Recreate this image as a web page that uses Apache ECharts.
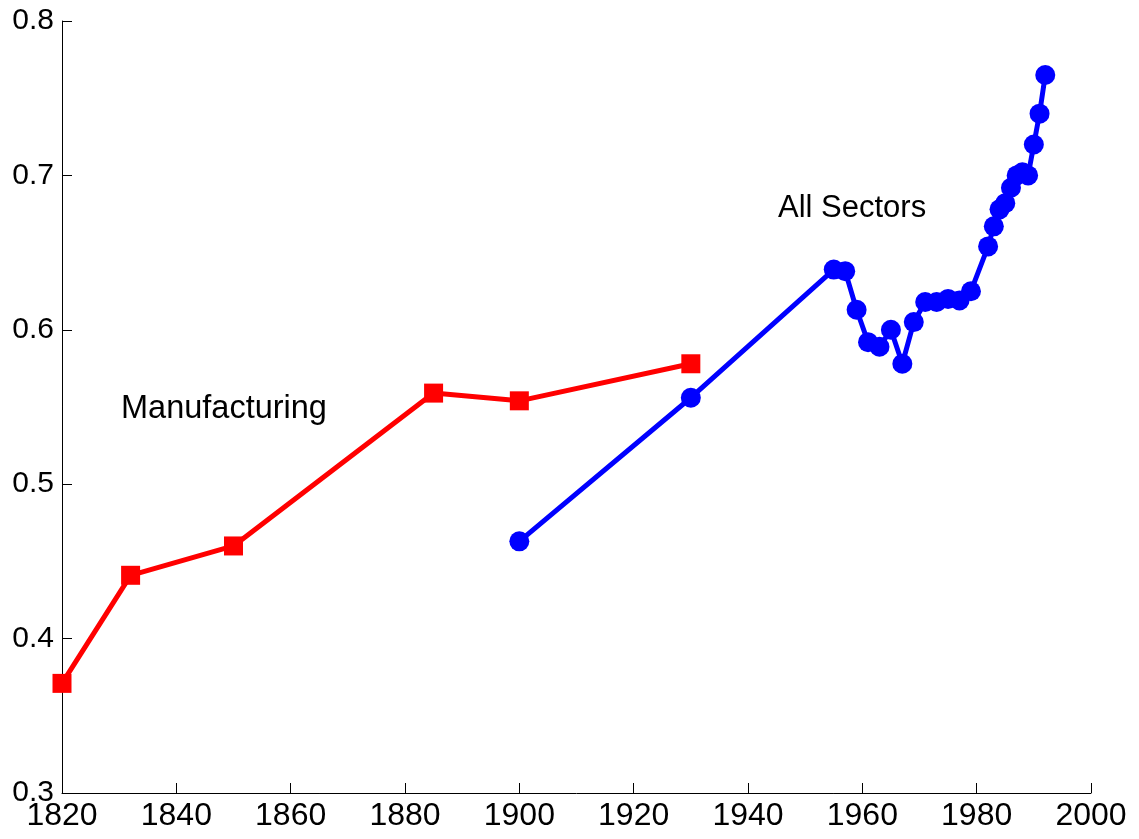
<!DOCTYPE html>
<html>
<head>
<meta charset="utf-8">
<script src="https://cdn.jsdelivr.net/npm/echarts@6/dist/echarts.min.js"></script>
<style>
  html, body { margin: 0; padding: 0; background: #fff; }
  #chart { width: 1139px; height: 839px; }
</style>
</head>
<body>
<div id="chart"></div>
<script>
// data
var mfgYears  = [1820, 1832, 1850, 1885, 1900, 1930];
var mfgValues = [0.371, 0.441, 0.460, 0.559, 0.554, 0.578];

var allYears  = [1900, 1930, 1955, 1957, 1959, 1961, 1963, 1965, 1967, 1969,
                 1971, 1973, 1975, 1977, 1979, 1982, 1983, 1984, 1985, 1986,
                 1987, 1988, 1989, 1990, 1991, 1992];
var allValues = [0.463, 0.556, 0.639, 0.638, 0.613, 0.592, 0.589, 0.600, 0.578, 0.605,
                 0.618, 0.618, 0.620, 0.619, 0.625, 0.654, 0.667, 0.678, 0.682, 0.692,
                 0.700, 0.702, 0.700, 0.720, 0.740, 0.765];

var xTicks = [1820, 1840, 1860, 1880, 1900, 1920, 1940, 1960, 1980, 2000];
var yTicks = [0.3, 0.4, 0.5, 0.6, 0.7, 0.8];

function zip(xs, ys) {
    var out = [];
    for (var i = 0; i < xs.length; i++) out.push([xs[i], ys[i]]);
    return out;
}

var font = "'Liberation Sans', Arial, Helvetica, sans-serif";

var myChart = echarts.init(document.getElementById('chart'));

var option = {
    animation: false,
    backgroundColor: '#ffffff',
    grid: { left: 62, right: 48, top: 21, bottom: 46 },
    xAxis: {
        type: 'value',
        min: xTicks[0],
        max: xTicks[xTicks.length - 1],
        interval: 20,
        axisLine: { show: true, onZero: false, lineStyle: { color: '#000', width: 1 } },
        axisTick: { show: true, inside: true, length: 10, lineStyle: { color: '#000' } },
        axisLabel: {
            color: '#000', fontSize: 32, fontFamily: font, margin: 7,
            formatter: function (v) { return String(v); }
        },
        splitLine: { show: false }
    },
    yAxis: {
        type: 'value',
        min: yTicks[0],
        max: yTicks[yTicks.length - 1],
        interval: 0.1,
        axisLine: { show: true, lineStyle: { color: '#000', width: 1 } },
        axisTick: { show: true, inside: true, length: 10, lineStyle: { color: '#000' } },
        axisLabel: {
            color: '#000', fontSize: 30, fontFamily: font, margin: 8,
            formatter: function (v) { return v.toFixed(1); }
        },
        splitLine: { show: false }
    },
    series: [
        {
            name: 'Manufacturing',
            type: 'line',
            data: zip(mfgYears, mfgValues),
            symbol: 'rect',
            symbolSize: 19,
            color: '#ff0000',
            lineStyle: { color: '#ff0000', width: 5 },
            itemStyle: { color: '#ff0000' }
        },
        {
            name: 'All Sectors',
            type: 'line',
            data: zip(allYears, allValues),
            symbol: 'circle',
            symbolSize: 20,
            color: '#0000ff',
            lineStyle: { color: '#0000ff', width: 5 },
            itemStyle: { color: '#0000ff' }
        }
    ],
    graphic: [
        {
            type: 'text', left: 778, top: 193,
            style: { text: 'All Sectors', fill: '#000', font: '31px ' + font }
        },
        {
            type: 'text', left: 121, top: 393,
            style: { text: 'Manufacturing', fill: '#000', font: '32.5px ' + font }
        }
    ]
};

myChart.setOption(option);
window.addEventListener('resize', function () { myChart.resize(); });
</script>
</body>
</html>
